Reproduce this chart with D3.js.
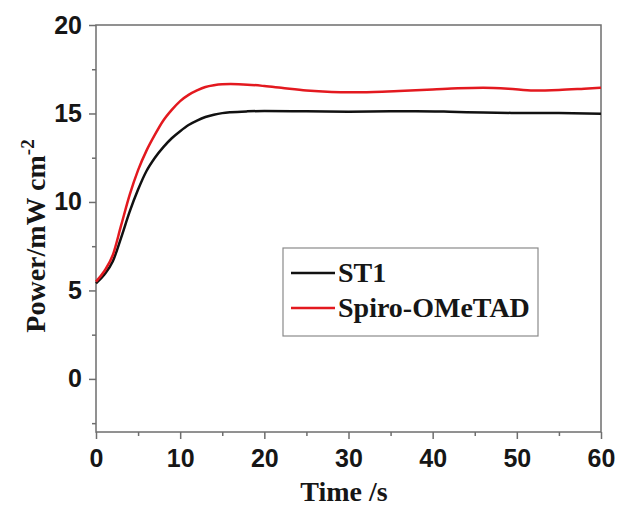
<!DOCTYPE html>
<html lang="en">
  <head>
    <meta charset="utf-8">
    <title>Power vs time</title>
    <style>
      body { margin: 0; background: #fff; }
      .tick text { font-family: "Liberation Sans", Arial, sans-serif; font-weight: bold; }
    </style>
  </head>
  <body>
    <script src="https://cdn.jsdelivr.net/npm/d3@7"></script>
    <script>
    // readings: [time s, power mW cm-2]
    const st1 = [[0,5.4],[1,5.9],[2,6.65],[3,8.0],[4,9.45],[5,10.7],[6,11.75],[7,12.5],[8,13.1],[9,13.6],
      [10,14.0],[11,14.35],[12,14.6],[13,14.8],[14,14.93],[15,15.02],[16,15.07],[18,15.12],[20,15.14],
      [25,15.12],[30,15.1],[35,15.12],[38,15.13],[42,15.1],[46,15.05],[50,15.03],[55,15.02],[60,14.98]]
    const spiro = [[0,5.5],[1,6.1],[2,7.0],[3,8.7],[4,10.4],[5,11.8],[6,12.9],[7,13.8],[8,14.6],[9,15.2],
      [10,15.7],[11,16.05],[12,16.3],[13,16.5],[14,16.6],[15,16.65],[16,16.66],[18,16.63],[20,16.55],
      [22,16.45],[25,16.3],[28,16.22],[30,16.2],[33,16.22],[36,16.27],[40,16.35],[43,16.42],[46,16.45],
      [49,16.4],[52,16.3],[55,16.33],[58,16.4],[60,16.45]]
    const seriesNames = ["ST1", "Spiro-OMeTAD"]
    const xTicks = [0, 10, 20, 30, 40, 50, 60]
    const xMinor = [5, 15, 25, 35, 45, 55]
    const yTicks = [0, 5, 10, 15, 20]
    const yMinor = [-2.5, 2.5, 7.5, 12.5, 17.5]

    const w = 622, h = 510
    const pl = 96, pr = 601, pt = 25, pb = 432   // plot box edges
    const axisColor = "#6e6e6e"
    const serif = "'Liberation Serif', 'Times New Roman', serif"

    const svg = d3.select("body").append("svg").attr("width", w).attr("height", h)

    const x = d3.scaleLinear().domain([0, 60]).range([pl, pr])
    const y = d3.scaleLinear().domain([-3, 20]).range([pb, pt])

    // frame
    svg.append("rect")
      .attr("x", pl).attr("y", pt)
      .attr("width", pr - pl).attr("height", pb - pt)
      .attr("fill", "none").attr("stroke", axisColor).attr("stroke-width", 1.5)

    const styleAxis = g => {
      g.select(".domain").remove()
      g.selectAll(".tick line").attr("stroke", axisColor).attr("stroke-width", 1.5)
      g.selectAll(".tick text").attr("fill", "#161616").style("font-size", "25px")
    }

    svg.append("g").attr("transform", `translate(0,${pb})`)
      .call(d3.axisBottom(x).tickValues(xTicks).tickSize(7).tickPadding(10))
      .call(styleAxis)
    svg.append("g").attr("transform", `translate(0,${pb})`)
      .call(d3.axisBottom(x).tickValues(xMinor).tickSize(4).tickFormat(""))
      .call(styleAxis)
    svg.append("g").attr("transform", `translate(${pl},0)`)
      .call(d3.axisLeft(y).tickValues(yTicks).tickSize(7).tickPadding(7))
      .call(styleAxis)
    svg.append("g").attr("transform", `translate(${pl},0)`)
      .call(d3.axisLeft(y).tickValues(yMinor).tickSize(4).tickFormat(""))
      .call(styleAxis)

    const color = d3.scaleOrdinal().domain(seriesNames).range(["#111111", "#e3191f"])

    const line = d3.line()
      .x(d => x(d[0]))
      .y(d => y(d[1]))
      .curve(d3.curveMonotoneX)

    svg.append("path").datum(st1)
      .attr("d", line).attr("fill", "none")
      .attr("stroke", color("ST1")).attr("stroke-width", 2.5)
    svg.append("path").datum(spiro)
      .attr("d", line).attr("fill", "none")
      .attr("stroke", color("Spiro-OMeTAD")).attr("stroke-width", 2.5)

    // axis titles
    svg.append("text")
      .attr("x", 344).attr("y", 501)
      .attr("text-anchor", "middle")
      .style("font-family", serif)
      .style("font-weight", "bold").style("font-size", "28px")
      .attr("fill", "#161616")
      .text("Time /s")

    const yTitle = svg.append("text")
      .attr("transform", "translate(45,236) rotate(-90)")
      .attr("text-anchor", "middle")
      .style("font-family", serif)
      .style("font-weight", "bold").style("font-size", "28px")
      .attr("fill", "#161616")
    yTitle.append("tspan").text("Power/mW cm")
    yTitle.append("tspan").attr("dy", -11).style("font-size", "19px").text("-2")

    // legend
    const legend = svg.append("g").attr("id", "legend")
    legend.append("rect")
      .attr("x", 283).attr("y", 248).attr("width", 255).attr("height", 88)
      .attr("fill", "#fff").attr("stroke", "#8a8a8a").attr("stroke-width", 1.2)

    const items = legend.selectAll("g.item")
      .data(seriesNames)
      .enter().append("g")
      .attr("class", "item")
      .attr("transform", (d, i) => `translate(291, ${273 + i * 35})`)

    items.append("line")
      .attr("x1", 0).attr("x2", 44)
      .attr("stroke", d => color(d)).attr("stroke-width", 2.5)

    items.append("text")
      .attr("x", 47).attr("dy", "0.33em")
      .style("font-family", serif)
      .style("font-weight", "bold").style("font-size", "28px")
      .attr("fill", "#161616")
      .text(d => d)
    </script>
  </body>
</html>
